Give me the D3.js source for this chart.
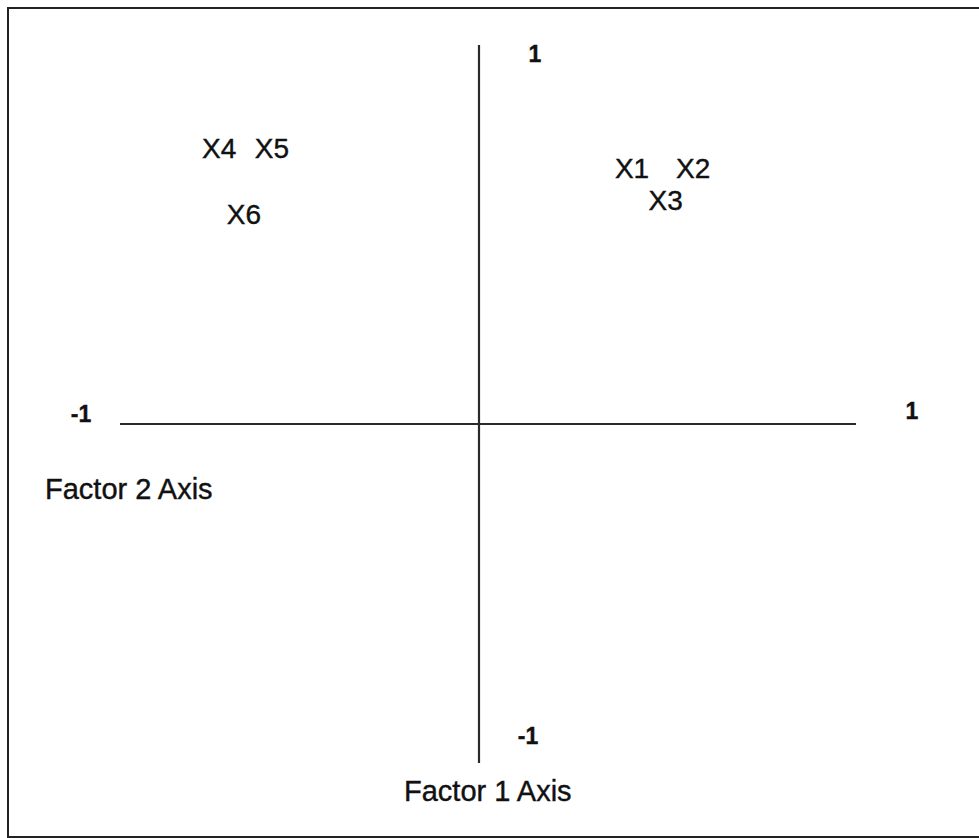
<!DOCTYPE html>
<html>
<head>
<meta charset="utf-8">
<script src="https://cdn.jsdelivr.net/npm/d3@7"></script>
<style>
  body { margin: 0; background: #fff; }
  svg text { font-family: "Liberation Sans", Arial, sans-serif; fill: #111; stroke: #111; stroke-width: 0.4px; }
</style>
</head>
<body>
<div id="chart"></div>
<script>
// variable names and their loadings on the two axes
const variables = ["X1", "X2", "X3", "X4", "X5", "X6"];
const loadingsH = [0.406, 0.568, 0.495, -0.724, -0.577, -0.655];
const loadingsV = [0.673, 0.673, 0.591, 0.728, 0.728, 0.554];
const axisEnds = [-1, 1];
const axisTitles = ["Factor 2 Axis", "Factor 1 Axis"];

const width = 979, height = 838;

const svg = d3.select("#chart").append("svg")
    .attr("width", width)
    .attr("height", height);

// frame
svg.append("rect")
    .attr("x", 8).attr("y", 8)
    .attr("width", width + 10).attr("height", 829)
    .attr("fill", "none")
    .attr("stroke", "#222")
    .attr("stroke-width", 2);

const x = d3.scaleLinear().domain([-1, 0, 1]).range([120, 479, 856]);
const y = d3.scaleLinear().domain([-1, 0, 1]).range([763, 424, 45]);

// axes
svg.append("line")
    .attr("x1", x(axisEnds[0])).attr("x2", x(axisEnds[1]))
    .attr("y1", y(0)).attr("y2", y(0))
    .attr("stroke", "#2a2a2a").attr("stroke-width", 2.2);

svg.append("line")
    .attr("x1", x(0)).attr("x2", x(0))
    .attr("y1", y(axisEnds[0])).attr("y2", y(axisEnds[1]))
    .attr("stroke", "#2a2a2a").attr("stroke-width", 2.2);

// end labels
const tick = svg.append("g")
    .attr("font-size", 23)
    .attr("font-weight", "bold")
    .attr("text-anchor", "middle")
    .attr("dominant-baseline", "central");

tick.append("text").attr("x", x(axisEnds[0]) - 39).attr("y", y(0) - 10).text(axisEnds[0]);
tick.append("text").attr("x", x(axisEnds[1]) + 56).attr("y", y(0) - 13).text(axisEnds[1]);
tick.append("text").attr("x", x(0) + 56).attr("y", y(axisEnds[1]) + 9).text(axisEnds[1]);
tick.append("text").attr("x", x(0) + 49).attr("y", y(axisEnds[0]) - 27).text(axisEnds[0]);

// axis titles
svg.append("text")
    .attr("x", 45).attr("y", 499)
    .attr("font-size", 29)
    .text(axisTitles[0]);

svg.append("text")
    .attr("x", 404).attr("y", 801)
    .attr("font-size", 29)
    .text(axisTitles[1]);

// variable labels
svg.append("g").selectAll("text")
    .data(variables)
    .join("text")
    .attr("x", (d, i) => x(loadingsH[i]))
    .attr("y", (d, i) => y(loadingsV[i]))
    .attr("font-size", 28)
    .attr("text-anchor", "middle")
    .attr("dominant-baseline", "central")
    .text(d => d);
</script>
</body>
</html>
